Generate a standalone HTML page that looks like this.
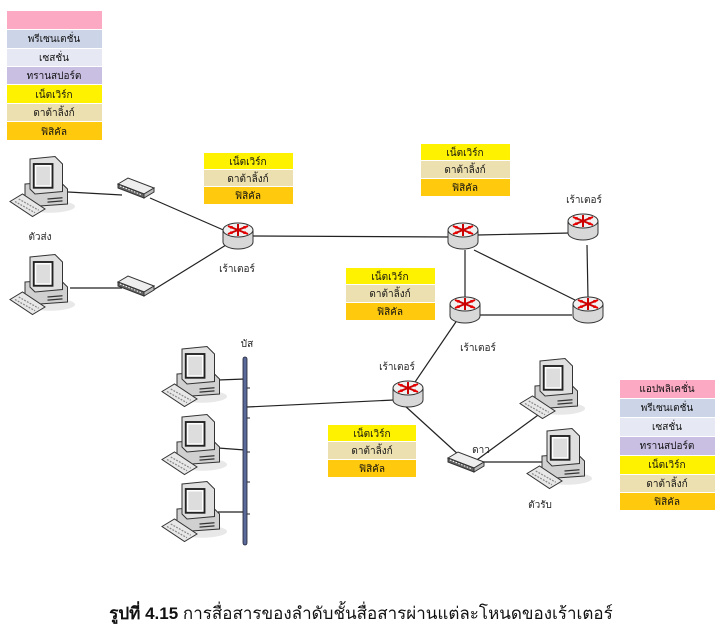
<!DOCTYPE html>
<html><head><meta charset="utf-8"><style>
body{margin:0;width:723px;height:634px;background:#fff;overflow:hidden;font-family:"Liberation Sans","Noto Sans CJK SC",sans-serif}
svg{position:absolute;left:0;top:0}
.t{font-size:10px;fill:#222;text-anchor:middle}
</style></head><body>
<svg width="723" height="634" viewBox="0 0 723 634">
<defs>
<symbol id="pc" viewBox="0 0 56 52" overflow="visible">
 <ellipse cx="32" cy="42" rx="20" ry="5" fill="#e8e8e8"/>
 <polygon points="12,24 40,22 46,28 46,40 18,42 12,36" fill="#d0d0d0" stroke="#333" stroke-width="0.8"/>
 <polygon points="16,4 36,2 42,8 42,30 20,32 16,28" fill="#e0e0e0" stroke="#333" stroke-width="0.8"/>
 <rect x="19" y="8" width="15" height="19" fill="#fff" stroke="#222" stroke-width="1.5"/>
 <rect x="21" y="10" width="11" height="15" fill="#ddd"/>
 <line x1="30" y1="36" x2="42" y2="35" stroke="#333"/><line x1="30" y1="38.5" x2="42" y2="37.5" stroke="#333"/>
 <polygon points="0,38 10,32 28,44 18,50" fill="#e8e8e8" stroke="#333" stroke-width="0.8"/>
 <line x1="4" y1="38" x2="20" y2="47" stroke="#888" stroke-dasharray="1.5 1"/>
 <line x1="7" y1="36" x2="23" y2="45" stroke="#888" stroke-dasharray="1.5 1"/>
</symbol>
<symbol id="rt" viewBox="0 0 32 28" overflow="visible">
 <path d="M1,8 v12 a15,7 0 0 0 30,0 v-12" fill="#d8d8d8" stroke="#333"/>
 <ellipse cx="16" cy="8" rx="15" ry="7" fill="#f0f0f0" stroke="#333"/>
 <g stroke="#c00" stroke-width="2"><line x1="6" y1="4" x2="26" y2="12"/><line x1="6" y1="12" x2="26" y2="4"/><line x1="16" y1="2" x2="16" y2="14"/></g>
 <g fill="#e00"><polygon points="26,12 21,12 23,9"/><polygon points="26,4 21,4 23,7"/><polygon points="6,4 11,4 9,7"/><polygon points="6,12 11,12 9,9"/></g>
</symbol>
<symbol id="sw" viewBox="0 0 36 20" overflow="visible">
 <polygon points="0,6 10,0 36,10 26,16" fill="#eee" stroke="#333"/>
 <polygon points="0,6 26,16 26,20 0,10" fill="#666" stroke="#333"/>
 <polygon points="26,16 36,10 36,14 26,20" fill="#bbb" stroke="#333"/>
 <line x1="2" y1="8" x2="24" y2="17" stroke="#fff" stroke-dasharray="1.5 1.5"/>
</symbol>
</defs>
<g stroke="#222" stroke-width="1.2" fill="none">
<line x1="68" y1="192" x2="122" y2="195"/>
<line x1="150" y1="198" x2="228" y2="232"/>
<line x1="250" y1="236" x2="450" y2="237"/>
<line x1="150" y1="292" x2="226" y2="245"/>
<line x1="70" y1="288" x2="122" y2="288"/>
<line x1="478" y1="235" x2="570" y2="233"/>
<line x1="465" y1="250" x2="465" y2="298"/>
<line x1="474" y1="250" x2="575" y2="300"/>
<line x1="587" y1="245" x2="588" y2="298"/>
<line x1="478" y1="315" x2="572" y2="315"/>
<line x1="464" y1="310" x2="413" y2="385"/>
<line x1="247" y1="407" x2="394" y2="400"/>
<line x1="404" y1="405" x2="460" y2="456"/>
<line x1="470" y1="465" x2="545" y2="410"/>
<line x1="480" y1="462" x2="550" y2="462"/>
<line x1="218" y1="380" x2="245" y2="379"/>
<line x1="218" y1="448" x2="245" y2="450"/>
<line x1="218" y1="512" x2="245" y2="512"/>
</g>
<rect x="243" y="357" width="4" height="188" rx="2" fill="#5a6a9a" stroke="#223" stroke-width="0.8"/>
<g stroke="#223"><line x1="247" y1="388" x2="250" y2="388"/><line x1="247" y1="418" x2="250" y2="418"/><line x1="247" y1="452" x2="250" y2="452"/><line x1="247" y1="482" x2="250" y2="482"/><line x1="247" y1="514" x2="250" y2="514"/></g>
<use href="#pc" x="10" y="154" width="70" height="65"/>
<use href="#pc" x="10" y="252" width="70" height="65"/>
<use href="#pc" x="162" y="344" width="70" height="65"/>
<use href="#pc" x="162" y="412" width="70" height="65"/>
<use href="#pc" x="162" y="479" width="70" height="65"/>
<use href="#pc" x="520" y="356" width="70" height="65"/>
<use href="#pc" x="527" y="426" width="70" height="65"/>
<use href="#sw" x="118" y="178" width="36" height="20"/>
<use href="#sw" x="118" y="276" width="36" height="20"/>
<use href="#sw" x="448" y="452" width="36" height="20"/>
<use href="#rt" x="222" y="222" width="32" height="28"/>
<use href="#rt" x="447" y="222" width="32" height="28"/>
<use href="#rt" x="567" y="213" width="32" height="28"/>
<use href="#rt" x="572" y="296" width="32" height="28"/>
<use href="#rt" x="449" y="296" width="32" height="28"/>
<use href="#rt" x="392" y="380" width="32" height="28"/>
<g class="t">
<text x="40" y="240">ตัวส่ง</text>
<text x="237" y="272">เร้าเตอร์</text>
<text x="584" y="203">เร้าเตอร์</text>
<text x="478" y="351">เร้าเตอร์</text>
<text x="397" y="370">เร้าเตอร์</text>
<text x="247" y="347">บัส</text>
<text x="481" y="453">ดาว</text>
<text x="540" y="508">ตัวรับ</text>
</g>
<g font-size="10" text-anchor="middle" fill="#111">
<rect x="7" y="11" width="95" height="18" fill="#fcaac4"/>
<rect x="7" y="30" width="95" height="18" fill="#ccd5e8"/><text x="54" y="42">พรีเซนเตชั่น</text>
<rect x="7" y="49" width="95" height="17" fill="#e6e9f4"/><text x="54" y="61">เซสชั่น</text>
<rect x="7" y="67" width="95" height="17" fill="#c9bfe3"/><text x="54" y="79">ทรานสปอร์ต</text>
<rect x="7" y="85" width="95" height="18" fill="#fff200"/><text x="54" y="98">เน็ตเวิร์ก</text>
<rect x="7" y="104" width="95" height="17" fill="#ede0b0"/><text x="54" y="116">ดาต้าลิ้งก์</text>
<rect x="7" y="122" width="95" height="18" fill="#ffc90e"/><text x="54" y="135">ฟิสิคัล</text>

<rect x="204" y="153" width="89" height="16" fill="#fff200"/><text x="248" y="165">เน็ตเวิร์ก</text>
<rect x="204" y="170" width="89" height="16" fill="#ede0b0"/><text x="248" y="182">ดาต้าลิ้งก์</text>
<rect x="204" y="187" width="89" height="17" fill="#ffc90e"/><text x="248" y="199">ฟิสิคัล</text>

<rect x="421" y="144" width="89" height="16" fill="#fff200"/><text x="465" y="156">เน็ตเวิร์ก</text>
<rect x="421" y="161" width="89" height="17" fill="#ede0b0"/><text x="465" y="173">ดาต้าลิ้งก์</text>
<rect x="421" y="179" width="89" height="17" fill="#ffc90e"/><text x="465" y="191">ฟิสิคัล</text>

<rect x="346" y="268" width="89" height="16" fill="#fff200"/><text x="390" y="280">เน็ตเวิร์ก</text>
<rect x="346" y="285" width="89" height="17" fill="#ede0b0"/><text x="390" y="297">ดาต้าลิ้งก์</text>
<rect x="346" y="303" width="89" height="17" fill="#ffc90e"/><text x="390" y="315">ฟิสิคัล</text>

<rect x="328" y="425" width="88" height="16" fill="#fff200"/><text x="372" y="437">เน็ตเวิร์ก</text>
<rect x="328" y="442" width="88" height="17" fill="#ede0b0"/><text x="372" y="454">ดาต้าลิ้งก์</text>
<rect x="328" y="460" width="88" height="17" fill="#ffc90e"/><text x="372" y="472">ฟิสิคัล</text>

<rect x="620" y="380" width="95" height="18" fill="#fcaac4"/><text x="667" y="392">แอปพลิเคชั่น</text>
<rect x="620" y="399" width="95" height="18" fill="#ccd5e8"/><text x="667" y="411">พรีเซนเตชั่น</text>
<rect x="620" y="418" width="95" height="18" fill="#e6e9f4"/><text x="667" y="430">เซสชั่น</text>
<rect x="620" y="437" width="95" height="18" fill="#c9bfe3"/><text x="667" y="449">ทรานสปอร์ต</text>
<rect x="620" y="456" width="95" height="18" fill="#fff200"/><text x="667" y="468">เน็ตเวิร์ก</text>
<rect x="620" y="475" width="95" height="17" fill="#ede0b0"/><text x="667" y="487">ดาต้าลิ้งก์</text>
<rect x="620" y="493" width="95" height="17" fill="#ffc90e"/><text x="667" y="505">ฟิสิคัล</text>
</g>
<text x="361" y="619" font-size="17" text-anchor="middle" fill="#111"><tspan font-weight="bold">รูปที่ 4.15</tspan>  การสื่อสารของลำดับชั้นสื่อสารผ่านแต่ละโหนดของเร้าเตอร์</text>
</svg>
</body></html>
